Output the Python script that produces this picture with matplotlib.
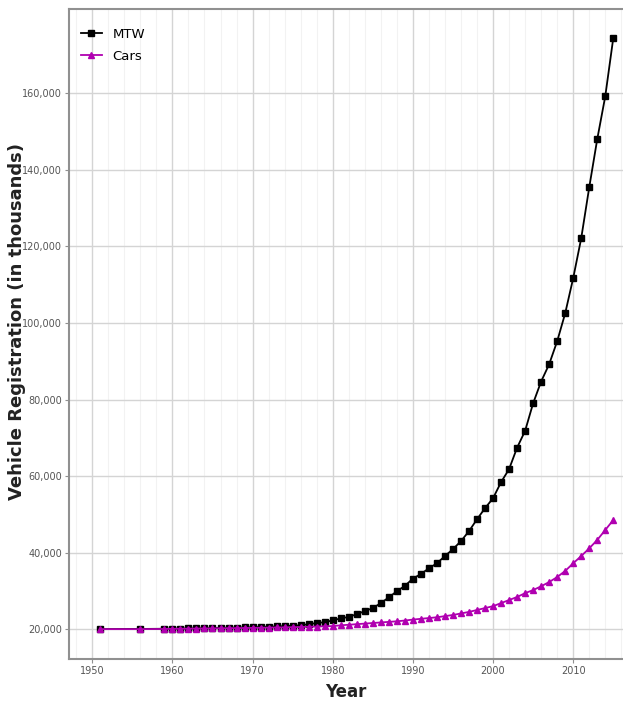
import matplotlib
matplotlib.use("Agg")
import matplotlib.pyplot as plt
from matplotlib.ticker import FuncFormatter, MultipleLocator

years = [1951, 1956] + list(range(1959, 2016))

mtw = [20000, 20050,
       20100, 20120, 20150, 20180, 20200, 20230, 20270, 20300, 20350, 20400,   # 1959-1968
       20450, 20500, 20560, 20620, 20700, 20780, 20870, 21000, 21300, 21600,   # 1969-1978
       21800, 22300, 22800, 23200, 23900, 24700, 25500, 26800, 28300, 29900,   # 1979-1988
       31300, 33200, 34400, 35900, 37200, 39100, 40900, 43000, 45600, 48700,   # 1989-1998
       51600, 54200, 58400, 61800, 67400, 71800, 79000, 84700, 89200, 95200,   # 1999-2008
       102500, 111700, 122100, 135400, 148000, 159200, 174400]                 # 2009-2015

cars = [20000, 20000,
        20050, 20080, 20100, 20120, 20150, 20170, 20200, 20220, 20250, 20270,  # 1959-1968
        20300, 20330, 20360, 20400, 20430, 20470, 20510, 20560, 20620, 20680,  # 1969-1978
        20750, 20800, 21000, 21150, 21300, 21450, 21600, 21750, 21900, 22050,  # 1979-1988
        22250, 22500, 22700, 22900, 23100, 23400, 23700, 24100, 24500, 25000,  # 1989-1998
        25500, 26000, 26800, 27600, 28400, 29400, 30200, 31200, 32300, 33600,  # 1999-2008
        35200, 37200, 39100, 41100, 43300, 45900, 48500]                       # 2009-2015

x_ticks = [1950, 1960, 1970, 1980, 1990, 2000, 2010]
y_ticks = [20000, 40000, 60000, 80000, 100000, 120000, 140000, 160000]

fig = plt.figure(figsize=(6.23, 7.03), dpi=100)
ax = fig.add_axes([0.1108, 0.0626, 0.889, 0.9244])

ax.plot(years, mtw, color='black', marker='s', markersize=4.2, linewidth=1.3, label='MTW', zorder=3)
ax.plot(years, cars, color='#b000b0', marker='^', markersize=4.2, linewidth=1.3, label='Cars', zorder=3)

ax.set_xlim(1947.1, 2016.2)
ax.set_ylim(12200, 182000)
ax.set_xticks(x_ticks)
ax.set_yticks(y_ticks)
ax.xaxis.set_minor_locator(MultipleLocator(2))
ax.yaxis.set_major_formatter(FuncFormatter(lambda v, p: f"{int(v):,}"))

ax.grid(True, which='major', color='#d4d4d4', linewidth=1.0)
ax.grid(True, which='minor', axis='x', color='#f2f2f2', linewidth=0.8)
ax.set_axisbelow(True)

for side in ['left', 'bottom', 'top']:
    ax.spines[side].set_color('#909090')
    ax.spines[side].set_linewidth(1.5)
ax.spines['right'].set_visible(False)

ax.tick_params(axis='both', which='major', colors='#909090', length=3, labelsize=7,
               labelcolor='#555555', pad=2)
ax.tick_params(axis='both', which='minor', length=0)

ax.set_xlabel('Year', fontsize=12, fontweight='bold', color='#222222', labelpad=5)
ax.set_ylabel('Vehicle Registration (in thousands)', fontsize=13, fontweight='bold',
              color='#222222')
ax.yaxis.set_label_coords(-0.078, 0.52)

leg = ax.legend(loc='upper left', frameon=False, prop={'size': 9.5},
                handlelength=1.6, bbox_to_anchor=(0.0, 0.99), labelspacing=0.7)

fig.savefig('out.png', dpi=100)
